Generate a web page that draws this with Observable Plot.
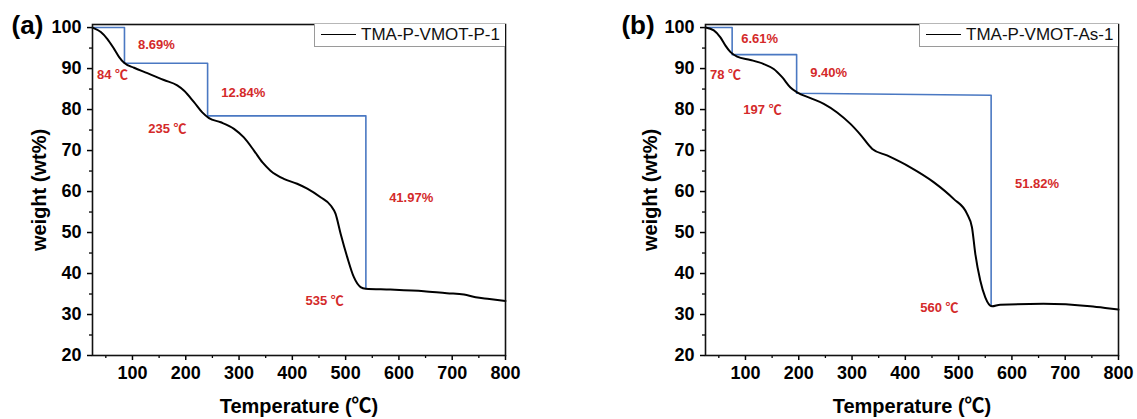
<!DOCTYPE html>
<html>
<head>
<meta charset="utf-8">
<script src="https://cdn.jsdelivr.net/npm/d3@7"></script>
<script src="https://cdn.jsdelivr.net/npm/@observablehq/plot@0.6"></script>
<style>
  html, body { margin: 0; padding: 0; background: #fff; }
  #fig { position: relative; width: 1137px; height: 419px; overflow: hidden; font-family: "Liberation Sans", Arial, "Noto Sans CJK SC", sans-serif; }
  .panel { position: absolute; top: 0; }
  .legend { position: absolute; box-sizing: border-box; border: 1px solid #9a9a9a; border-top: none; border-right: none; background: #fff; height: 23px; }
  .legend .ln { position: absolute; top: 10px; height: 0; border-top: 1.6px solid #000; }
  .legend .tx { position: absolute; top: 1px; font-size: 17px; line-height: 19px; color: #111; white-space: nowrap; }
</style>
</head>
<body>
<div id="fig"></div>
<script>
// ---------- data ----------
const xMajorTicks = [100, 200, 300, 400, 500, 600, 700, 800];
const xMinorTicks = [50, 150, 250, 350, 450, 550, 650, 750];
const yMajorTicks = [20, 30, 40, 50, 60, 70, 80, 90, 100];
const yMinorTicks = [25, 35, 45, 55, 65, 75, 85, 95];
const xTitle = "Temperature (℃)";
const yTitle = "weight (wt%)";

// Panel (a): TMA-P-VMOT-P-1
const seriesA = "TMA-P-VMOT-P-1";
const tempA = [25, 40.6, 53, 65.5, 75, 84.3, 103, 128, 159, 184, 197, 215.5, 231, 243.6, 265.6, 290.5, 309, 328, 344, 359, 384, 409, 428, 453, 472, 481, 490.6, 503, 515.5, 528, 537.5, 584, 647, 690, 722, 744, 770, 800];
const weightA = [100, 98.9, 97.2, 94.8, 92.8, 91.4, 90.2, 88.9, 87.2, 85.9, 84.6, 81.8, 79.3, 77.9, 76.9, 75.3, 73.2, 70.0, 67.1, 65.1, 63.1, 61.9, 60.7, 58.6, 56.6, 54.6, 49.7, 44.0, 39.1, 36.7, 36.3, 36.1, 35.7, 35.2, 34.9, 34.2, 33.8, 33.3];
const stepTempA = [25, 85, 85, 241, 241, 538, 538];
const stepWeightA = [100, 100, 91.31, 91.31, 78.47, 78.47, 36.5];
const annTextA = ["8.69%", "84 ℃", "12.84%", "235 ℃", "41.97%", "535 ℃"];
const annTempA = [145, 62.5, 308, 165.6, 623, 460.6];
const annWeightA = [95.9, 88.5, 84.0, 75.3, 58.5, 33.4];

// Panel (b): TMA-P-VMOT-As-1
const seriesB = "TMA-P-VMOT-As-1";
const tempB = [25, 40.6, 53, 62.5, 72, 84.4, 109.4, 134.3, 153, 168.8, 184.4, 197, 222, 247, 272, 297, 315.6, 338, 365.7, 409.4, 453, 490.6, 515.6, 525, 531.3, 540.6, 550, 562.5, 578, 659, 747, 775, 800];
const weightB = [100, 99.3, 97.6, 95.6, 94.0, 92.9, 92.1, 91.1, 89.9, 87.9, 85.4, 84.2, 82.8, 81.4, 79.3, 76.5, 73.9, 70.4, 68.8, 65.9, 62.3, 58.2, 54.6, 51.3, 44.8, 38.3, 34.2, 32.0, 32.4, 32.6, 32.0, 31.6, 31.2];
const stepTempB = [25, 75, 75, 196, 196, 561, 561];
const stepWeightB = [100, 100, 93.39, 93.39, 83.99, 83.5, 32.17];
const annTextB = ["6.61%", "78 ℃", "9.40%", "197 ℃", "51.82%", "560 ℃"];
const annTempB = [126.6, 62.5, 256, 132, 647, 464];
const annWeightB = [97.2, 88.5, 89.0, 79.9, 62.0, 31.6];

// ---------- drawing ----------
const FONT = '"Liberation Sans", Arial, "Noto Sans CJK SC", sans-serif';
const BLUE = "#4a78c2";
const RED = "#d42a2a";

function panel(opts) {
  const curve = opts.temps.map((t, i) => ({t, w: opts.weights[i]}));
  const steps = opts.stepT.map((t, i) => ({t, w: opts.stepW[i]}));
  const ann = opts.annText.map((s, i) => ({s, t: opts.annT[i], w: opts.annW[i]}));
  return Plot.plot({
    width: opts.width,
    height: 419,
    marginLeft: opts.marginLeft,
    marginRight: opts.marginRight,
    marginTop: 24,
    marginBottom: 64,
    style: {fontFamily: FONT, fontSize: "18px", fontWeight: "bold", color: "#000", background: "transparent", overflow: "visible"},
    x: {domain: [25, 800]},
    y: {domain: [20, 100.75]},
    marks: [
      Plot.axisX({ticks: xMajorTicks, tickSize: 5, tickPadding: 6, label: null, strokeWidth: 1.5, fontSize: 18}),
      Plot.axisX({ticks: xMinorTicks, tickSize: 3, text: null, label: null, strokeWidth: 1.3}),
      Plot.axisY({ticks: yMajorTicks, tickSize: 5, tickPadding: 6, label: null, strokeWidth: 1.5, fontSize: 18}),
      Plot.axisY({ticks: yMinorTicks, tickSize: 3, text: null, label: null, strokeWidth: 1.3}),
      Plot.line(steps, {x: "t", y: "w", stroke: BLUE, strokeWidth: 1.6}),
      Plot.line(curve, {x: "t", y: "w", stroke: "#000", strokeWidth: 2, curve: "monotone-x"}),
      Plot.frame({stroke: "#111", strokeWidth: 1.6}),
      Plot.text(ann, {x: "t", y: "w", text: "s", fill: RED, fontSize: 13, fontWeight: "bold"}),
      Plot.text([xTitle], {frameAnchor: "bottom", dy: 51, lineAnchor: "middle", textAnchor: "middle", fontSize: 20, fontWeight: "bold"}),
      Plot.text([yTitle], {frameAnchor: "left", dx: opts.ydx, rotate: -90, lineAnchor: "middle", textAnchor: "middle", fontSize: 20, fontWeight: "bold"}),
      Plot.text([opts.tag], {frameAnchor: "top-left", dx: opts.tagDx, dy: 1, lineAnchor: "middle", textAnchor: "middle", fontSize: 26, fontWeight: "bold"})
    ]
  });
}

const fig = document.getElementById("fig");

function addPanel(left, opts, legend) {
  const wrap = document.createElement("div");
  wrap.className = "panel";
  wrap.style.left = left + "px";
  wrap.appendChild(panel(opts));
  fig.appendChild(wrap);
  const lg = document.createElement("div");
  lg.className = "legend";
  lg.style.left = legend.left + "px";
  lg.style.top = "24px";
  lg.style.width = legend.width + "px";
  const ln = document.createElement("div");
  ln.className = "ln";
  ln.style.left = "6px";
  ln.style.width = "35px";
  const tx = document.createElement("div");
  tx.className = "tx";
  tx.style.left = "46px";
  tx.textContent = legend.name;
  lg.appendChild(ln);
  lg.appendChild(tx);
  fig.appendChild(lg);
}

addPanel(0, {
  width: 568, marginLeft: 92, marginRight: 63,
  temps: tempA, weights: weightA, stepT: stepTempA, stepW: stepWeightA,
  annText: annTextA, annT: annTempA, annW: annWeightA, tag: "(a)", tagDx: -65, ydx: -53
}, {left: 314, width: 191, name: seriesA});

addPanel(568, {
  width: 569, marginLeft: 137, marginRight: 19,
  temps: tempB, weights: weightB, stepT: stepTempB, stepW: stepWeightB,
  annText: annTextB, annT: annTempB, annW: annWeightB, tag: "(b)", tagDx: -67.5, ydx: -55
}, {left: 919, width: 199, name: seriesB});
</script>
</body>
</html>
